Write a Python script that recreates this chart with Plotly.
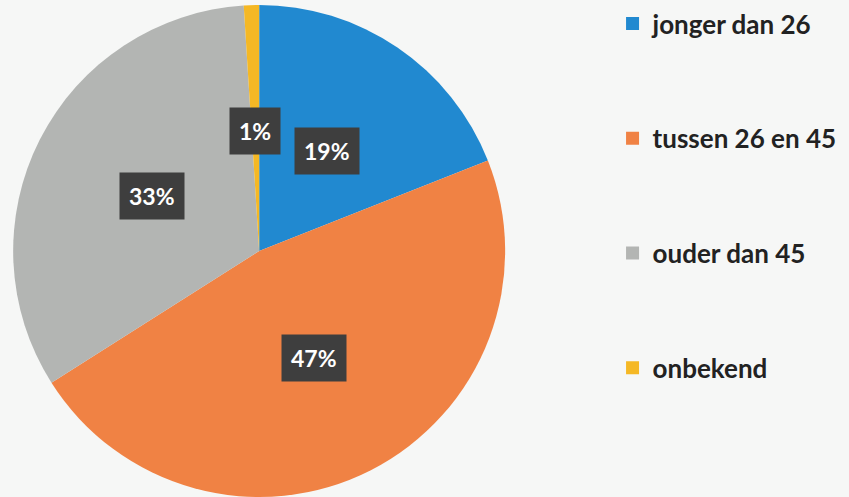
import math
import plotly.graph_objects as go

categories = ["jonger dan 26", "tussen 26 en 45", "ouder dan 45", "onbekend"]
values = [19, 47, 33, 1]
labels = ["19%", "47%", "33%", "1%"]
colors = ["#2189d0", "#f08244", "#b3b5b3", "#f5b825"]

W, H = 849, 497
dom_x = [0.0155, 0.595]
dom_y = [0.0, 0.99]

fig = go.Figure()
fig.add_trace(go.Pie(
    labels=categories, values=values, sort=False, direction="clockwise",
    rotation=0, marker=dict(colors=colors, line=dict(width=0)),
    textinfo="none", hoverinfo="label+percent", showlegend=False,
    domain=dict(x=dom_x, y=dom_y),
))

# legend entries
for cat, col in zip(categories, colors):
    fig.add_trace(go.Scatter(
        x=[None], y=[None], mode="markers", name=cat, legendgroup=cat,
        marker=dict(symbol="square", size=13, color=col),
    ))

# percentage labels at ~0.49 of the radius along slice mid-angle
cx = (dom_x[0] + dom_x[1]) / 2 * W
cy = (dom_y[0] + dom_y[1]) / 2 * H
R = min((dom_x[1] - dom_x[0]) * W, (dom_y[1] - dom_y[0]) * H) / 2
total = sum(values)
cum = 0
annotations = []
for v, lab in zip(values, labels):
    mid = (cum + v / 2) / total * 2 * math.pi
    cum += v
    r = 0.49 * R
    px = cx + r * math.sin(mid)
    py = cy + r * math.cos(mid)
    annotations.append(dict(
        x=px / W, y=py / H, xref="paper", yref="paper", text=lab,
        showarrow=False,
        font=dict(family="Lato", size=23, color="white", weight="bold"),
        bgcolor="#3e3e3e", borderpad=9, xanchor="center", yanchor="middle",
    ))

fig.update_layout(
    width=W, height=H,
    margin=dict(l=0, r=0, t=0, b=0),
    paper_bgcolor="#f6f7f6", plot_bgcolor="#f6f7f6",
    xaxis=dict(visible=False), yaxis=dict(visible=False),
    annotations=annotations,
    legend=dict(
        x=0.7215, y=1.0, xanchor="left", yanchor="top",
        font=dict(family="Lato", size=26, color="#222222", weight="bold"),
        tracegroupgap=78, bgcolor="rgba(0,0,0,0)",
    ),
)

fig.write_html("out.html", config={"displayModeBar": False},
               post_script="document.body.style.margin='0px';")
